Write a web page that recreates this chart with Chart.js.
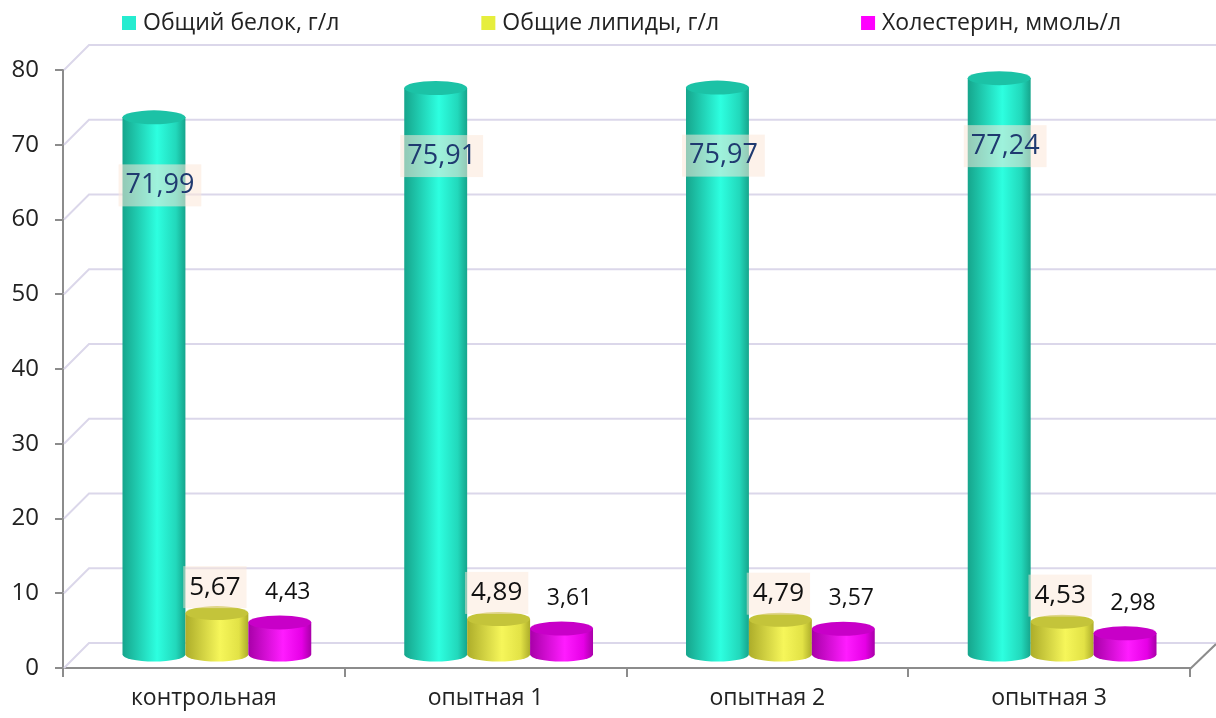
<!DOCTYPE html>
<html>
<head>
<meta charset="utf-8">
<script src="https://cdn.jsdelivr.net/npm/chart.js@4/dist/chart.umd.min.js"></script>
<style>
  html, body { margin: 0; padding: 0; background: #fff; }
  #wrap { width: 1216px; height: 718px; }
</style>
</head>
<body>
<div id="wrap"><canvas id="myChart" width="1216" height="718"></canvas></div>
<script>
var categories = ['контрольная', 'опытная 1', 'опытная 2', 'опытная 3'];
var protein = [71.99, 75.91, 75.97, 77.24];      // Общий белок, г/л
var lipids = [5.67, 4.89, 4.79, 4.53];            // Общие липиды, г/л
var cholesterol = [4.43, 3.61, 3.57, 2.98];       // Холестерин, ммоль/л
var seriesNames = ['Общий белок, г/л', 'Общие липиды, г/л', 'Холестерин, ммоль/л'];
var yTicks = [0, 10, 20, 30, 40, 50, 60, 70, 80];

var FONT = "'Open Sans', 'Noto Sans', sans-serif";
var DEPTH_X = 26, DEPTH_Y = 25;   // back wall offset of the 3D box

// dark edge, bright highlight, top cap
var shades = [
    { dark: '#16a58c', light: '#2dffe0', mid: '#22d8bb', top: '#1cc2a6', key: '#26ecd0' },
    { dark: '#adad2a', light: '#f6f65a', mid: '#e2e246', top: '#c4c43a', key: '#e6ee3c' },
    { dark: '#a800a8', light: '#ff1cff', mid: '#e600e6', top: '#c800c8', key: '#ff00ff' }
];

function fmt(v) {
    return v.toFixed(2).replace('.', ',');
}

// back wall, side wall and floor of the 3D box
var wallPlugin = {
    id: 'walls',
    beforeDatasetsDraw: function(chart) {
        var ctx = chart.ctx, area = chart.chartArea, y = chart.scales.y;
        ctx.save();
        ctx.strokeStyle = '#dbd7ea';
        ctx.lineWidth = 2;
        yTicks.forEach(function(t) {
            var py = y.getPixelForValue(t);
            ctx.beginPath();
            ctx.moveTo(area.left + 1, py);
            ctx.lineTo(area.left + DEPTH_X, py - DEPTH_Y);
            ctx.lineTo(chart.width, py - DEPTH_Y);
            ctx.stroke();
        });
        // right floor edge
        var base = y.getPixelForValue(0);
        ctx.strokeStyle = '#8c8c8c';
        ctx.beginPath();
        ctx.moveTo(area.right, base + 1);
        ctx.lineTo(area.right + DEPTH_X, base + 1 - DEPTH_Y);
        ctx.stroke();
        ctx.restore();
    }
};

function drawCylinder(ctx, cx, top, bottom, rx, ry, s) {
    var g = ctx.createLinearGradient(cx - rx, 0, cx + rx, 0);
    g.addColorStop(0, s.dark);
    g.addColorStop(0.55, s.light);
    g.addColorStop(0.85, s.mid);
    g.addColorStop(1, s.dark);
    ctx.fillStyle = g;
    ctx.beginPath();
    ctx.moveTo(cx - rx, top);
    ctx.lineTo(cx - rx, bottom);
    ctx.ellipse(cx, bottom, rx, ry, 0, Math.PI, 0, true);
    ctx.lineTo(cx + rx, top);
    ctx.closePath();
    ctx.fill();
    ctx.fillStyle = s.top;
    ctx.beginPath();
    ctx.ellipse(cx, top, rx, ry, 0, 0, Math.PI * 2);
    ctx.fill();
}

// bars drawn as cylinders standing halfway into the box
var cylinderPlugin = {
    id: 'cylinders',
    afterDatasetsDraw: function(chart) {
        var ctx = chart.ctx;
        var hx = DEPTH_X / 2, hy = DEPTH_Y / 2;
        ctx.save();
        chart.data.datasets.forEach(function(ds, di) {
            chart.getDatasetMeta(di).data.forEach(function(bar) {
                var p = bar.getProps(['x', 'y', 'base', 'width'], true);
                drawCylinder(ctx, p.x + hx, p.y - hy, p.base - hy, p.width / 2, 7, shades[di]);
            });
        });

        // value labels
        ctx.textAlign = 'center';
        ctx.textBaseline = 'middle';
        chart.data.datasets.forEach(function(ds, di) {
            chart.getDatasetMeta(di).data.forEach(function(bar, i) {
                var p = bar.getProps(['x', 'y'], true);
                var cx = p.x + hx, top = p.y - hy;
                var text = fmt(ds.data[i]);
                if (di === 0) {
                    ctx.font = '27px ' + FONT;
                    var tx = cx + 6, ty = top + 68;
                    var w = ctx.measureText(text).width + 14;
                    ctx.fillStyle = 'rgba(252, 232, 216, 0.55)';
                    ctx.fillRect(tx - w / 2, ty - 21, w, 42);
                    ctx.fillStyle = '#1f3a70';
                    ctx.fillText(text, tx, ty);
                } else if (di === 1) {
                    ctx.font = '26px ' + FONT;
                    var tx2 = cx - 2, ty2 = top - 26;
                    var w2 = ctx.measureText(text).width + 12;
                    ctx.fillStyle = 'rgba(252, 232, 216, 0.5)';
                    ctx.fillRect(tx2 - w2 / 2, ty2 - 21, w2, 42);
                    ctx.fillStyle = '#111';
                    ctx.fillText(text, tx2, ty2);
                } else {
                    ctx.font = '23px ' + FONT;
                    ctx.fillStyle = '#111';
                    ctx.fillText(text, cx + 8, top - 30);
                }
            });
        });
        ctx.restore();
    }
};

// legend row across the top
var legendPlugin = {
    id: 'topLegend',
    afterDraw: function(chart) {
        var ctx = chart.ctx;
        var x = 122, y = 23;
        ctx.save();
        ctx.font = '23px ' + FONT;
        ctx.textBaseline = 'middle';
        ctx.textAlign = 'left';
        chart.data.datasets.forEach(function(ds, di) {
            ctx.fillStyle = shades[di].key;
            ctx.fillRect(x, y - 7, 14, 14);
            ctx.fillStyle = '#222';
            ctx.fillText(ds.label, x + 21, y);
            x += 21 + ctx.measureText(ds.label).width + 142;
        });
        ctx.restore();
    }
};

var myChart;

document.addEventListener('DOMContentLoaded', function() {
    var ctx = document.getElementById('myChart').getContext('2d');
    var series = [protein, lipids, cholesterol];
    myChart = new Chart(ctx, {
        type: 'bar',
        data: {
            labels: categories,
            datasets: series.map(function(values, i) {
                return {
                    label: seriesNames[i],
                    data: values,
                    backgroundColor: 'transparent',
                    borderWidth: 0,
                    categoryPercentage: 0.67,
                    barPercentage: 1
                };
            })
        },
        options: {
            responsive: false,
            animation: false,
            layout: { padding: { top: 70, right: 26, left: 0, bottom: 0 } },
            plugins: {
                legend: { display: false },
                tooltip: { enabled: false }
            },
            scales: {
                x: {
                    offset: true,
                    grid: {
                        offset: true,
                        drawOnChartArea: false,
                        drawTicks: true,
                        tickLength: 9,
                        color: '#8c8c8c',
                        lineWidth: 2
                    },
                    border: { display: true, color: '#8c8c8c', width: 2 },
                    ticks: {
                        color: '#222',
                        font: { family: FONT, size: 23 },
                        padding: 8
                    },
                    afterFit: function(scale) { scale.height = 50; }
                },
                y: {
                    min: 0,
                    max: 80,
                    ticks: {
                        stepSize: 10,
                        color: '#222',
                        font: { family: FONT, size: 24 },
                        padding: 16
                    },
                    grid: {
                        drawOnChartArea: false,
                        drawTicks: true,
                        tickLength: 8,
                        color: '#8c8c8c',
                        lineWidth: 2
                    },
                    border: { display: true, color: '#8c8c8c', width: 2 },
                    afterFit: function(scale) { scale.width = 63; }
                }
            }
        },
        plugins: [wallPlugin, cylinderPlugin, legendPlugin]
    });
});
</script>
</body>
</html>
